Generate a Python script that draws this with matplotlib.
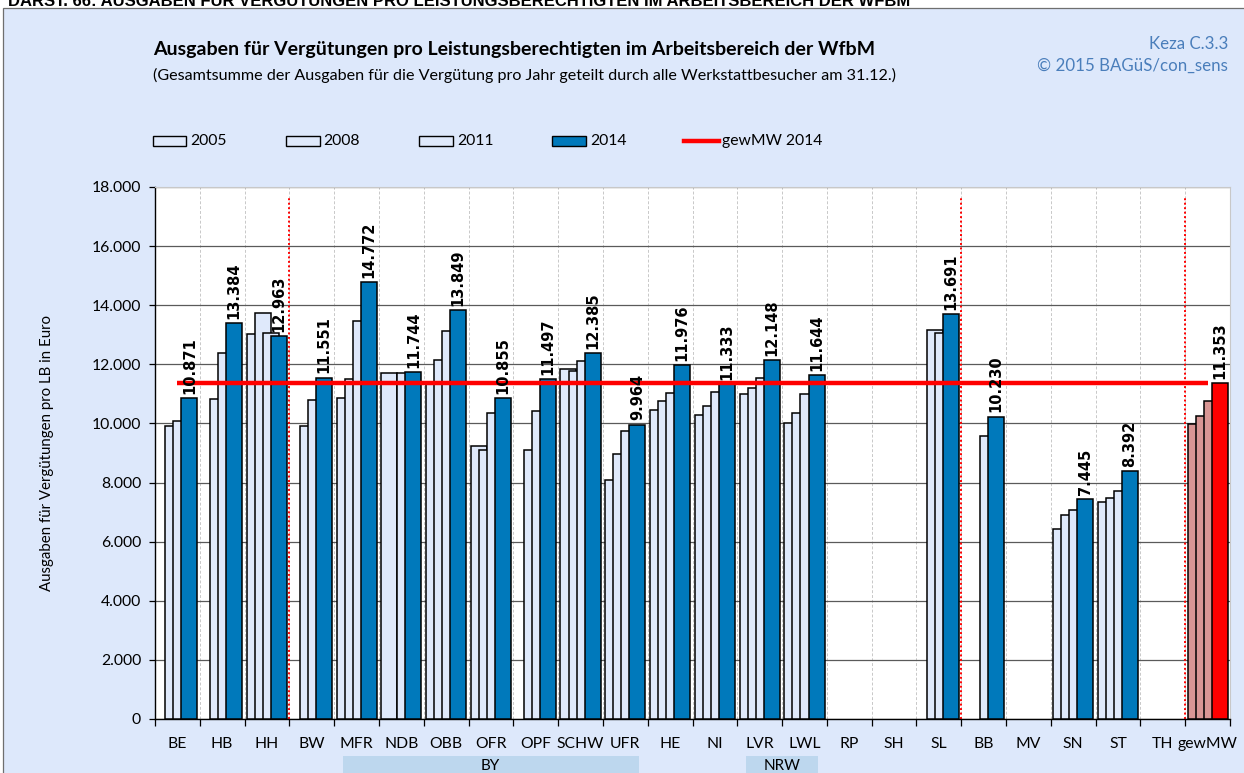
import numpy as np
import matplotlib
matplotlib.use("Agg")
import matplotlib.pyplot as plt
from matplotlib.patches import Rectangle
from matplotlib.lines import Line2D
from matplotlib.ticker import FuncFormatter, FixedLocator
from matplotlib.transforms import blended_transform_factory

# ---------------- data ----------------
categories = ["BE", "HB", "HH", "BW", "MFR", "NDB", "OBB", "OFR", "OPF", "SCHW", "UFR",
              "HE", "NI", "LVR", "LWL", "RP", "SH", "SL", "BB", "MV", "SN", "ST", "TH", "gewMW"]
nan = np.nan
v2005 = [nan, nan, 13010, nan, 10870, 11690, 11400, 9230, nan, 11845, 8100,
         10460, 10295, 10990, 10030, nan, nan, nan, nan, nan, 6415, 7355, nan, 9985]
v2008 = [9930, 10835, 13720, 9925, 11490, nan, 12140, 9085, 9090, 11775, 8975,
         10745, 10575, 11195, 10370, nan, nan, 13150, nan, nan, 6900, 7465, nan, 10240]
v2011 = [10075, 12400, 13045, 10785, 13480, 11720, 13120, 10355, 10405, 12125, 9750,
         11025, 11060, 11535, 11000, nan, nan, 13075, 9590, nan, 7070, 7715, nan, 10745]
v2014 = [10871, 13384, 12963, 11551, 14772, 11744, 13849, 10855, 11497, 12385, 9964,
         11976, 11333, 12148, 11644, nan, nan, 13691, 10230, nan, 7445, 8392, nan, 11353]
gewmw_2014 = 11353
series_labels = ["2005", "2008", "2011", "2014"]
line_label = "gewMW 2014"
group_labels = [("BY", "MFR", "UFR"), ("NRW", "LVR", "LWL")]
separators_after = ["HH", "SL", "TH"]

title = "Ausgaben für Vergütungen pro Leistungsberechtigten im Arbeitsbereich der WfbM"
subtitle = "(Gesamtsumme der Ausgaben für die Vergütung pro Jahr geteilt durch alle Werkstattbesucher am 31.12.)"
header = "DARST. 66: AUSGABEN FÜR VERGÜTUNGEN PRO LEISTUNGSBERECHTIGTEN IM ARBEITSBEREICH DER WFBM"
ylabel = "Ausgaben für Vergütungen pro LB in Euro"

# ---------------- style ----------------
W, H = 1244, 773
LIGHT = "#dfe9fb"
BLUE = "#0079bb"
PINK = "#d99694"
RED = "#ff0000"
BG = "#dde8fb"
TXTFONT = ["Lato", "DejaVu Sans"]

plt.rcParams["font.family"] = TXTFONT

fig = plt.figure(figsize=(W / 100, H / 100), dpi=100)
fig.patch.set_facecolor("white")


def fx(px):
    return px / W


def fy(py):
    return 1 - py / H


# chart frame background
fig.add_artist(Rectangle((fx(3), -0.05), 1, fy(8) + 0.05, transform=fig.transFigure,
                         facecolor=BG, edgecolor="#6f6f6f", lw=0.9, zorder=-9))

left, right, top, bottom = 155, 1230, 187, 719
ax = fig.add_axes([fx(left), fy(bottom), fx(right - left), (bottom - top) / H])
ax.set_facecolor("white")

n = len(categories)
x = np.arange(n)
bw = 0.357
step = 0.179
colors_light = [LIGHT] * n
colors_light[-1] = PINK
colors_blue = [BLUE] * n
colors_blue[-1] = RED

all_series = [v2005, v2008, v2011, v2014]
for i, vals in enumerate(all_series):
    cols = colors_blue if i == 3 else colors_light
    ax.bar(x + (i - 1.5) * step, np.array(vals, dtype=float), width=bw, color=cols,
           edgecolor="black", linewidth=1.1, zorder=3 + i)

# average line
ax.plot(x, [gewmw_2014] * n, color=RED, lw=3.2, zorder=10, solid_capstyle="butt")

# data labels for 2014
for xi, v in zip(x, v2014):
    if np.isnan(v):
        continue
    ax.annotate(f"{v:,.0f}".replace(",", "."), (xi + 1.5 * step, v), xytext=(0, 3),
                textcoords="offset points", rotation=90, ha="center", va="bottom",
                fontsize=10.5, fontweight="bold", family="DejaVu Sans", zorder=12)

# separators
for name in separators_after:
    k = categories.index(name) + 0.5
    ax.plot([k, k], [0, 17650], color=RED, lw=1.4, linestyle=(0, (1, 1.3)), zorder=2)

ax.set_xlim(-0.5, n - 0.5)
ax.set_ylim(0, 18000)
ax.set_yticks(np.arange(0, 18001, 2000))
ax.yaxis.set_major_formatter(FuncFormatter(lambda v, p: f"{v:,.0f}".replace(",", ".")))
ax.set_xticks(x)
ax.set_xticklabels(categories)
ax.xaxis.set_minor_locator(FixedLocator(np.arange(-0.5, n, 1.0)))
ax.tick_params(axis="x", which="major", length=0, pad=13, labelsize=11.3)
ax.tick_params(axis="x", which="minor", length=5, width=0.9, direction="out", color="black")
ax.tick_params(axis="y", which="major", length=4, width=0.9, direction="out", labelsize=11.3, pad=6)

ax.grid(axis="y", which="major", color="#5a5a5a", lw=0.9, zorder=1)
ax.grid(axis="x", which="minor", color="#c8c8c8", lw=0.7, linestyle=(0, (3, 2)), zorder=1)
ax.grid(axis="x", which="major", visible=False)
ax.set_axisbelow(True)

for s in ["top", "right"]:
    ax.spines[s].set_color("#c8c8c8")
    ax.spines[s].set_linewidth(0.8)
for s in ["left", "bottom"]:
    ax.spines[s].set_color("black")
    ax.spines[s].set_linewidth(1.0)

# group boxes below axis
bt = blended_transform_factory(ax.transData, fig.transFigure)
for lab, a, b in group_labels:
    x0 = categories.index(a) - 0.5 + 0.19
    x1 = categories.index(b) + 0.5 - 0.2
    fig.add_artist(Rectangle((x0, -0.02), x1 - x0, fy(756) + 0.02, transform=bt,
                             facecolor="#bdd7ee", edgecolor="none", zorder=1))
    fig.add_artist(matplotlib.text.Text((x0 + x1) / 2, fy(766), lab, transform=bt,
                                        ha="center", va="center", fontsize=11,
                                        family=TXTFONT, zorder=5))

# titles
fig.text(fx(153), fy(50), title, fontsize=14, fontweight="bold", ha="left", va="center")
fig.text(fx(153), fy(75), subtitle, fontsize=11.6, ha="left", va="center")
fig.text(fx(1228), fy(44), "Keza C.3.3", fontsize=12.2, color="#4a7ebb", ha="right", va="center")
fig.text(fx(1228), fy(66), "© 2015 BAGüS/con_sens", fontsize=12.2, color="#4a7ebb",
         ha="right", va="center")
fig.text(fx(8), fy(6), header, fontsize=12, fontweight="bold", ha="left", va="baseline",
         family=["Liberation Sans Narrow", "Liberation Sans", "DejaVu Sans"])
fig.text(fx(47), fy(453), ylabel, rotation=90, fontsize=10.8, ha="center", va="center")

# legend (manual)
leg_y = 141
box_h = 10
legend_items = [(152.5, 186, 190, series_labels[0], LIGHT),
                (286, 319.5, 323, series_labels[1], LIGHT),
                (419, 452.5, 457, series_labels[2], LIGHT),
                (551.6, 585.5, 590, series_labels[3], BLUE)]
for a, b, t, lab, c in legend_items:
    fig.add_artist(Rectangle((fx(a), fy(leg_y + box_h / 2)), fx(b - a), box_h / H,
                             transform=fig.transFigure, facecolor=c, edgecolor="black", lw=1.0))
    fig.text(fx(t), fy(leg_y), lab, fontsize=11.3, ha="left", va="center")
fig.add_artist(Line2D([fx(684), fx(719)], [fy(leg_y), fy(leg_y)], transform=fig.transFigure,
                      color=RED, lw=3.2))
fig.text(fx(722), fy(leg_y), line_label, fontsize=11.3, ha="left", va="center")

fig.savefig("out.png", dpi=100, facecolor=fig.get_facecolor())
